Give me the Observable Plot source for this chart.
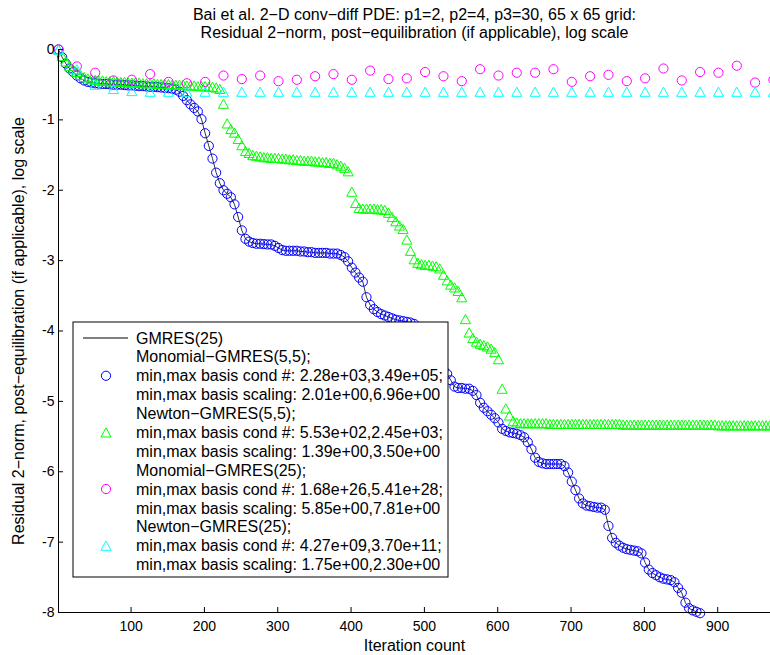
<!DOCTYPE html>
<html><head><meta charset="utf-8">
<script src="https://cdn.jsdelivr.net/npm/d3@7"></script>
<script src="https://cdn.jsdelivr.net/npm/@observablehq/plot@0.6"></script>
<style>body{margin:0;background:#fff}</style>
</head><body><div id="chart"></div>
<script>
// ---- text ----
const titleLines = [
  "Bai et al. 2\u2212D conv\u2212diff PDE: p1=2, p2=4, p3=30, 65 x 65 grid:",
  "Residual 2\u2212norm, post\u2212equilibration (if applicable), log scale"
];
const xLabel = "Iteration count";
const yLabel = "Residual 2\u2212norm, post\u2212equilibration (if applicable), log scale";
const xTicks = [100, 200, 300, 400, 500, 600, 700, 800, 900];
const yTicks = [-8, -7, -6, -5, -4, -3, -2, -1, 0];

// ---- series: log10 residual, sampled every s-step (iteration = 1 + step*k) ----
const stepS5 = 5;    // s-step methods (5,5) and GMRES(25) line samples
const stepS25 = 25;  // (25) methods

// Monomial-GMRES(5,5) (blue circles)
const monomial55 = [0,-0.11,-0.20,-0.27,-0.32,-0.37,-0.41,-0.44,-0.46,-0.47,
-0.48,-0.485,-0.49,-0.49,-0.495,-0.50,-0.50,-0.50,-0.505,-0.51,
-0.51,-0.515,-0.52,-0.52,-0.525,-0.53,-0.53,-0.535,-0.54,-0.545,
-0.55,-0.555,-0.57,-0.60,-0.66,-0.72,-0.78,-0.83,-0.88,-0.99,
-1.19,-1.37,-1.55,-1.75,-1.90,-2.00,-2.05,-2.10,-2.20,-2.38,
-2.57,-2.69,-2.73,-2.75,-2.76,-2.76,-2.765,-2.77,-2.77,-2.79,
-2.82,-2.85,-2.86,-2.86,-2.86,-2.86,-2.87,-2.87,-2.88,-2.88,
-2.89,-2.89,-2.89,-2.89,-2.90,-2.90,-2.90,-2.92,-2.95,-3.01,
-3.10,-3.17,-3.24,-3.30,-3.52,-3.63,-3.69,-3.73,-3.76,-3.78,
-3.80,-3.82,-3.84,-3.85,-3.86,-3.87,-3.88,-3.90,-3.95,-4.03,
-4.15,-4.28,-4.38,-4.45,-4.50,-4.55,-4.61,-4.70,-4.79,-4.81,
-4.81,-4.82,-4.82,-4.85,-4.91,-5.02,-5.09,-5.14,-5.19,-5.24,
-5.30,-5.39,-5.42,-5.44,-5.45,-5.46,-5.48,-5.51,-5.58,-5.68,
-5.80,-5.86,-5.88,-5.89,-5.89,-5.89,-5.89,-5.89,-5.92,-6.01,
-6.14,-6.26,-6.38,-6.45,-6.48,-6.49,-6.50,-6.51,-6.51,-6.54,
-6.77,-6.94,-7.01,-7.05,-7.08,-7.10,-7.11,-7.12,-7.13,-7.16,
-7.29,-7.39,-7.44,-7.47,-7.50,-7.52,-7.53,-7.54,-7.57,-7.65,
-7.72,-7.86,-7.94,-7.97,-7.99,-8.01];
// GMRES(25) (black line), read along the same path as the blue circles
const gmres25 = [0,-0.11,-0.20,-0.27,-0.32,-0.37,-0.41,-0.44,-0.46,-0.47,
-0.48,-0.485,-0.49,-0.49,-0.495,-0.50,-0.50,-0.50,-0.505,-0.51,
-0.51,-0.515,-0.52,-0.52,-0.525,-0.53,-0.53,-0.535,-0.54,-0.545,
-0.55,-0.555,-0.57,-0.60,-0.66,-0.72,-0.78,-0.83,-0.88,-0.99,
-1.19,-1.37,-1.55,-1.75,-1.90,-2.00,-2.05,-2.10,-2.20,-2.38,
-2.57,-2.69,-2.73,-2.75,-2.76,-2.76,-2.765,-2.77,-2.77,-2.79,
-2.82,-2.85,-2.86,-2.86,-2.86,-2.86,-2.87,-2.87,-2.88,-2.88,
-2.89,-2.89,-2.89,-2.89,-2.90,-2.90,-2.90,-2.92,-2.95,-3.01,
-3.10,-3.17,-3.24,-3.30,-3.52,-3.63,-3.69,-3.73,-3.76,-3.78,
-3.80,-3.82,-3.84,-3.85,-3.86,-3.87,-3.88,-3.90,-3.95,-4.03,
-4.15,-4.28,-4.38,-4.45,-4.50,-4.55,-4.61,-4.70,-4.79,-4.81,
-4.81,-4.82,-4.82,-4.85,-4.91,-5.02,-5.09,-5.14,-5.19,-5.24,
-5.30,-5.39,-5.42,-5.44,-5.45,-5.46,-5.48,-5.51,-5.58,-5.68,
-5.80,-5.86,-5.88,-5.89,-5.89,-5.89,-5.89,-5.89,-5.92,-6.01,
-6.14,-6.26,-6.38,-6.45,-6.48,-6.49,-6.50,-6.51,-6.51,-6.54,
-6.77,-6.94,-7.01,-7.05,-7.08,-7.10,-7.11,-7.12,-7.13,-7.16,
-7.29,-7.39,-7.44,-7.47,-7.50,-7.52,-7.53,-7.54,-7.57,-7.65,
-7.72,-7.86,-7.94,-7.97,-7.99,-8.01];

// Newton-GMRES(5,5) (green triangles)
const newton55 = [0,-0.09,-0.17,-0.23,-0.28,-0.32,-0.36,-0.39,-0.41,-0.42,
-0.43,-0.44,-0.44,-0.45,-0.45,-0.45,-0.46,-0.46,-0.46,-0.47,
-0.47,-0.47,-0.47,-0.48,-0.48,-0.48,-0.48,-0.49,-0.49,-0.49,
-0.49,-0.50,-0.50,-0.50,-0.50,-0.51,-0.51,-0.51,-0.52,-0.52,
-0.52,-0.53,-0.53,-0.54,-0.56,-0.77,-1.05,-1.13,-1.18,-1.27,
-1.36,-1.44,-1.47,-1.50,-1.51,-1.52,-1.53,-1.53,-1.54,-1.54,
-1.54,-1.55,-1.55,-1.56,-1.56,-1.57,-1.57,-1.58,-1.58,-1.58,
-1.59,-1.59,-1.60,-1.60,-1.61,-1.61,-1.63,-1.65,-1.68,-1.73,
-2.02,-2.18,-2.25,-2.26,-2.26,-2.26,-2.26,-2.27,-2.27,-2.28,
-2.32,-2.38,-2.44,-2.50,-2.55,-2.70,-2.86,-2.98,-3.03,-3.05,
-3.06,-3.06,-3.07,-3.08,-3.11,-3.20,-3.28,-3.34,-3.38,-3.43,
-3.52,-3.83,-4.02,-4.10,-4.15,-4.18,-4.20,-4.22,-4.25,-4.30,
-4.40,-4.82,-5.10,-5.20,-5.28,-5.30,-5.31,-5.31,-5.31,-5.31,
-5.31,-5.31,-5.31,-5.31,-5.32,-5.32,-5.32,-5.32,-5.32,-5.32,
-5.32,-5.32,-5.32,-5.32,-5.32,-5.32,-5.32,-5.32,-5.32,-5.32,
-5.32,-5.32,-5.32,-5.32,-5.33,-5.33,-5.33,-5.33,-5.33,-5.33,
-5.33,-5.33,-5.33,-5.33,-5.33,-5.33,-5.33,-5.33,-5.33,-5.33,
-5.33,-5.33,-5.33,-5.33,-5.33,-5.33,-5.33,-5.33,-5.33,-5.33,
-5.34,-5.34,-5.34,-5.34,-5.34,-5.34,-5.34,-5.34,-5.34,-5.34,
-5.34,-5.34,-5.34,-5.34,-5.34,-5.34];

// Monomial-GMRES(25) (magenta circles)
const monomial25 = [0,-0.24,-0.33,-0.44,-0.43,-0.35,-0.46,-0.48,-0.46,-0.37,
-0.42,-0.37,-0.45,-0.43,-0.38,-0.35,-0.43,-0.30,-0.42,-0.41,
-0.32,-0.38,-0.45,-0.28,-0.37,-0.33,-0.33,-0.28,-0.46,-0.38,
-0.36,-0.45,-0.41,-0.27,-0.44,-0.32,-0.33,-0.23,-0.47,-0.43];

// Newton-GMRES(25) (cyan triangles)
const newton25 = [0,-0.28,-0.50,-0.56,-0.59,-0.60,-0.60,-0.60,-0.60,-0.60,
-0.60,-0.60,-0.60,-0.60,-0.60,-0.60,-0.60,-0.60,-0.60,-0.60,
-0.60,-0.60,-0.60,-0.60,-0.60,-0.60,-0.60,-0.60,-0.60,-0.60,
-0.60,-0.60,-0.60,-0.60,-0.60,-0.60,-0.60,-0.60,-0.60,-0.60];

const legendEntries = [
  {lines: ["GMRES(25)"], kind: "line", color: "black"},
  {lines: ["Monomial\u2212GMRES(5,5);", "min,max basis cond #: 2.28e+03,3.49e+05;", "min,max basis scaling: 2.01e+00,6.96e+00"], kind: "circle", color: "#0000ff"},
  {lines: ["Newton\u2212GMRES(5,5);", "min,max basis cond #: 5.53e+02,2.45e+03;", "min,max basis scaling: 1.39e+00,3.50e+00"], kind: "triangle", color: "#00ff00"},
  {lines: ["Monomial\u2212GMRES(25);", "min,max basis cond #: 1.68e+26,5.41e+28;", "min,max basis scaling: 5.85e+00,7.81e+00"], kind: "circle", color: "#ff00ff"},
  {lines: ["Newton\u2212GMRES(25);", "min,max basis cond #: 4.27e+09,3.70e+11;", "min,max basis scaling: 1.75e+00,2.30e+00"], kind: "triangle", color: "#00ffff"}
];

// ---- build tables ----
const toRows = (vals, step) => vals.map((v, k) => ({it: 1 + step * k, r: v}));
const rowsG25 = toRows(gmres25, stepS5);
const rowsM55 = toRows(monomial55, stepS5);
const rowsN55 = toRows(newton55, stepS5);
const rowsM25 = toRows(monomial25, stepS25);
const rowsN25 = toRows(newton25, stepS25);

const triangle = {
  draw(ctx, size) {
    const r = Math.sqrt(size / Math.PI);
    ctx.moveTo(0, -r);
    ctx.lineTo(r * 1.1, r);
    ctx.lineTo(-r * 1.1, r);
    ctx.closePath();
  }
};

const font = "'Liberation Sans', Arial, Helvetica, sans-serif";
const R = 4.6;
const tickFmt = d => (d < 0 ? "-" + Math.abs(d) : String(d));

const chart = Plot.plot({
  width: 770,
  height: 655,
  marginLeft: 58,
  marginRight: 0,
  marginTop: 49,
  marginBottom: 43,
  style: {fontFamily: font, fontSize: "14px", background: "white", overflow: "visible"},
  x: {domain: [1, 972], label: null},
  y: {domain: [-8, 0], label: null},
  marks: [
    Plot.line(rowsG25, {x: "it", y: "r", stroke: "black", strokeWidth: 0.8}),
    Plot.dot(rowsM55, {x: "it", y: "r", r: R, stroke: "#0000ff", strokeWidth: 1, fill: "none"}),
    Plot.dot(rowsN55, {x: "it", y: "r", r: R, symbol: triangle, stroke: "#00ff00", strokeWidth: 1, fill: "none"}),
    Plot.dot(rowsM25, {x: "it", y: "r", r: R, stroke: "#ff00ff", strokeWidth: 1, fill: "none"}),
    Plot.dot(rowsN25, {x: "it", y: "r", r: R, symbol: triangle, stroke: "#00ffff", strokeWidth: 1, fill: "none"}),
    Plot.ruleY([-8], {stroke: "black", strokeWidth: 1}),
    Plot.ruleX([1], {stroke: "black", strokeWidth: 1}),
    Plot.axisX(xTicks, {anchor: "bottom", tickSize: -5, tickPadding: 14, tickFormat: tickFmt, fontSize: 14, label: null, stroke: "black", fill: "black"}),
    Plot.axisY(yTicks, {anchor: "left", tickSize: -5, tickPadding: 9, tickFormat: tickFmt, fontSize: 14, label: null, stroke: "black", fill: "black"}),
    Plot.text([titleLines[0]], {frameAnchor: "top", dy: -35, lineAnchor: "middle", textAnchor: "middle", fontSize: 16, fill: "black"}),
    Plot.text([titleLines[1]], {frameAnchor: "top", dy: -17, lineAnchor: "middle", textAnchor: "middle", fontSize: 16, fill: "black"}),
    Plot.text([xLabel], {frameAnchor: "bottom", dy: 33, lineAnchor: "middle", textAnchor: "middle", fontSize: 16, fill: "black"}),
    Plot.text([yLabel], {frameAnchor: "left", dx: -40, rotate: -90, lineAnchor: "middle", textAnchor: "middle", fontSize: 16, fill: "black"})
  ]
});
document.getElementById("chart").appendChild(chart);

// ---- legend box ----
const svg = d3.select(chart.tagName.toLowerCase() === "svg" ? chart : chart.querySelector("svg"));
const lg = svg.append("g").attr("font-family", font).attr("font-size", 16).attr("text-anchor", "start");
const box = {x: 73, y: 322, w: 375, h: 255};
lg.append("rect").attr("x", box.x).attr("y", box.y).attr("width", box.w).attr("height", box.h)
  .attr("fill", "white").attr("stroke", "black").attr("stroke-width", 1);
const rowH = 18.88, firstY = 338, textX = 136, symX = 106;
let row = 0;
for (const e of legendEntries) {
  const mid = firstY + rowH * (row + (e.lines.length - 1) / 2);
  if (e.kind === "line") {
    lg.append("line").attr("x1", 83).attr("x2", 128).attr("y1", mid).attr("y2", mid)
      .attr("stroke", e.color).attr("stroke-width", 1);
  } else if (e.kind === "circle") {
    lg.append("circle").attr("cx", symX).attr("cy", mid).attr("r", R).attr("fill", "none").attr("stroke", e.color);
  } else {
    const path = d3.path();
    triangle.draw(path, R * R * Math.PI);
    lg.append("path").attr("d", path.toString()).attr("transform", `translate(${symX},${mid})`)
      .attr("fill", "none").attr("stroke", e.color);
  }
  for (const t of e.lines) {
    lg.append("text").attr("x", textX).attr("y", firstY + rowH * row).attr("dy", "0.35em")
      .attr("text-anchor", "start").attr("fill", "black").text(t);
    row++;
  }
}
</script></body></html>
